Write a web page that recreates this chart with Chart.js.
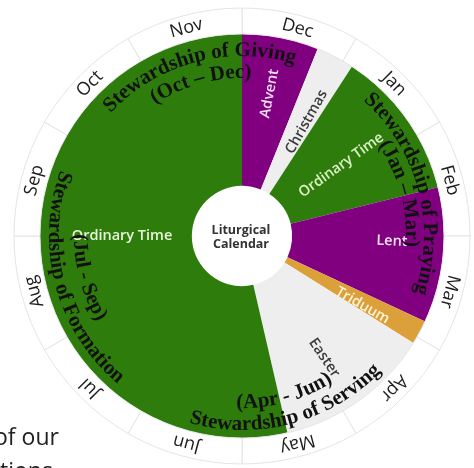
<!DOCTYPE html>
<html>
<head>
<meta charset="utf-8">
<title>Liturgical Calendar</title>
<script src="https://cdn.jsdelivr.net/npm/chart.js@4.4.1/dist/chart.umd.min.js"></script>
<style>
  html, body { margin: 0; padding: 0; background: #fff; }
  #wheel { display: block; }
</style>
</head>
<body>
<canvas id="wheel" width="474" height="468"></canvas>
<script>
// outer ring: one slot per month, starting at the top (Dec) and going clockwise
const months = ['Dec', 'Jan', 'Feb', 'Mar', 'Apr', 'May', 'Jun', 'Jul', 'Aug', 'Sep', 'Oct', 'Nov'];
const monthShare = [1, 1, 1, 1, 1, 1, 1, 1, 1, 1, 1, 1];

// inner ring: liturgical seasons, share of the wheel in degrees
const seasons = ['Advent', 'Christmas', 'Ordinary Time', 'Lent', 'Triduum', 'Easter', 'Ordinary Time'];
const seasonShare = [22, 11, 43, 39, 7, 45, 193];

// stewardship themes laid over the wheel
const themes = ['Stewardship of Giving', 'Stewardship of Praying', 'Stewardship of Serving', 'Stewardship of Formation'];
const themeRanges = ['(Oct – Dec)', '(Jan – Mar)', '(Apr - Jun)', '(Jul - Sep)'];
const themeFirst = ['Oct', 'Jan', 'Apr', 'Jul'];
const themeLast = ['Dec', 'Mar', 'Jun', 'Sep'];

// styles
const GREEN = '#2e7d0c';
const PURPLE = '#800080';
const seasonColors = [PURPLE, '#eeeeee', GREEN, PURPLE, '#dba03a', '#eeeeee', GREEN];
const seasonTextColors = ['#f4dcf4', '#3a3a3a', '#dcf2c6', '#f6e2f6', '#fff3da', '#3a3a3a', '#e6f5da'];
const seasonLabelR = [145, 131, 122, 150, 139, 147, 120];
const seasonLabelShift = [0, 2, 0, -3.5, 1.5, 1.5, 6.5]; // degrees
const themeR = [180, 182, 194, 193];
const themeSubR = [158, 164, 172, 168];

function arcText(ctx, str, cx, cy, r, mid, outward) {
  let total = 0;
  for (const ch of str) total += ctx.measureText(ch).width;
  let a = outward ? mid - total / r / 2 : mid + total / r / 2;
  for (const ch of str) {
    const w = ctx.measureText(ch).width;
    const c = outward ? a + w / r / 2 : a - w / r / 2;
    ctx.save();
    ctx.translate(cx + r * Math.cos(c), cy + r * Math.sin(c));
    ctx.rotate(outward ? c + Math.PI / 2 : c - Math.PI / 2);
    ctx.fillText(ch, 0, 0);
    ctx.restore();
    a = outward ? a + w / r : a - w / r;
  }
}

const slideText = {
  id: 'slideText',
  beforeDraw(chart) {
    const ctx = chart.ctx;
    ctx.save();
    ctx.fillStyle = '#222';
    ctx.font = '23px "Open Sans"';
    ctx.textAlign = 'left';
    ctx.textBaseline = 'alphabetic';
    ctx.fillText('of our', -6, 445);
    ctx.fillText('tions', 0, 479);
    ctx.restore();
  }
};

const wheelText = {
  id: 'wheelText',
  afterDatasetsDraw(chart) {
    const ctx = chart.ctx;
    const monthArcs = chart.getDatasetMeta(0).data;
    const seasonArcs = chart.getDatasetMeta(1).data;
    const cx = monthArcs[0].x, cy = monthArcs[0].y;
    ctx.save();

    // month names, tops facing out
    ctx.font = '18px "Open Sans"';
    ctx.fillStyle = '#1c1c1c';
    ctx.textAlign = 'center';
    ctx.textBaseline = 'middle';
    monthArcs.forEach((arc, i) => {
      const mid = (arc.startAngle + arc.endAngle) / 2;
      const r = (arc.innerRadius + arc.outerRadius) / 2 + 1;
      ctx.save();
      ctx.translate(cx + r * Math.cos(mid), cy + r * Math.sin(mid));
      ctx.rotate(mid + Math.PI / 2);
      ctx.fillText(months[i], 0, 1);
      ctx.restore();
    });

    // season names, radial
    ctx.font = '600 14.5px "Open Sans"';
    seasonArcs.forEach((arc, i) => {
      const mid = (arc.startAngle + arc.endAngle) / 2 + seasonLabelShift[i] * Math.PI / 180;
      const r = seasonLabelR[i];
      const theta = ((mid + Math.PI / 2) % (2 * Math.PI) + 2 * Math.PI) % (2 * Math.PI);
      ctx.save();
      ctx.translate(cx + r * Math.cos(mid), cy + r * Math.sin(mid));
      ctx.rotate(theta < Math.PI ? mid : mid + Math.PI);
      ctx.fillStyle = seasonTextColors[i];
      ctx.fillText(seasons[i], 0, 0);
      ctx.restore();
    });

    // centre
    ctx.font = 'bold 12.5px "Open Sans"';
    ctx.fillStyle = '#333';
    ctx.fillText('Liturgical', cx - 1, cy - 6);
    ctx.fillText('Calendar', cx - 1, cy + 8);

    // stewardship themes
    ctx.font = 'bold 21px "Liberation Serif"';
    ctx.fillStyle = '#111';
    ctx.textBaseline = 'alphabetic';
    themes.forEach((t, i) => {
      const a0 = monthArcs[months.indexOf(themeFirst[i])].startAngle;
      let a1 = monthArcs[months.indexOf(themeLast[i])].endAngle;
      if (a1 < a0) a1 += 2 * Math.PI;
      const mid = (a0 + a1) / 2;
      const outward = Math.sin(mid) < 0;
      arcText(ctx, t, cx, cy, themeR[i], mid, outward);
      arcText(ctx, themeRanges[i], cx, cy, themeSubR[i], mid, outward);
    });
    ctx.restore();
  }
};

new Chart(document.getElementById('wheel'), {
  type: 'doughnut',
  data: {
    labels: months,
    datasets: [
      {
        label: 'Months',
        data: monthShare,
        backgroundColor: '#ffffff',
        borderColor: '#e4e4e4',
        borderWidth: 1,
        weight: 26
      },
      {
        label: 'Seasons',
        data: seasonShare,
        backgroundColor: seasonColors,
        borderWidth: 0,
        weight: 152
      }
    ]
  },
  options: {
    responsive: false,
    animation: false,
    devicePixelRatio: 1,
    radius: 228,
    cutout: '22%',
    layout: { padding: { left: 10, top: 4, right: 0, bottom: 0 } },
    plugins: {
      legend: { display: false },
      tooltip: { enabled: false }
    }
  },
  plugins: [slideText, wheelText]
});
</script>
</body>
</html>
